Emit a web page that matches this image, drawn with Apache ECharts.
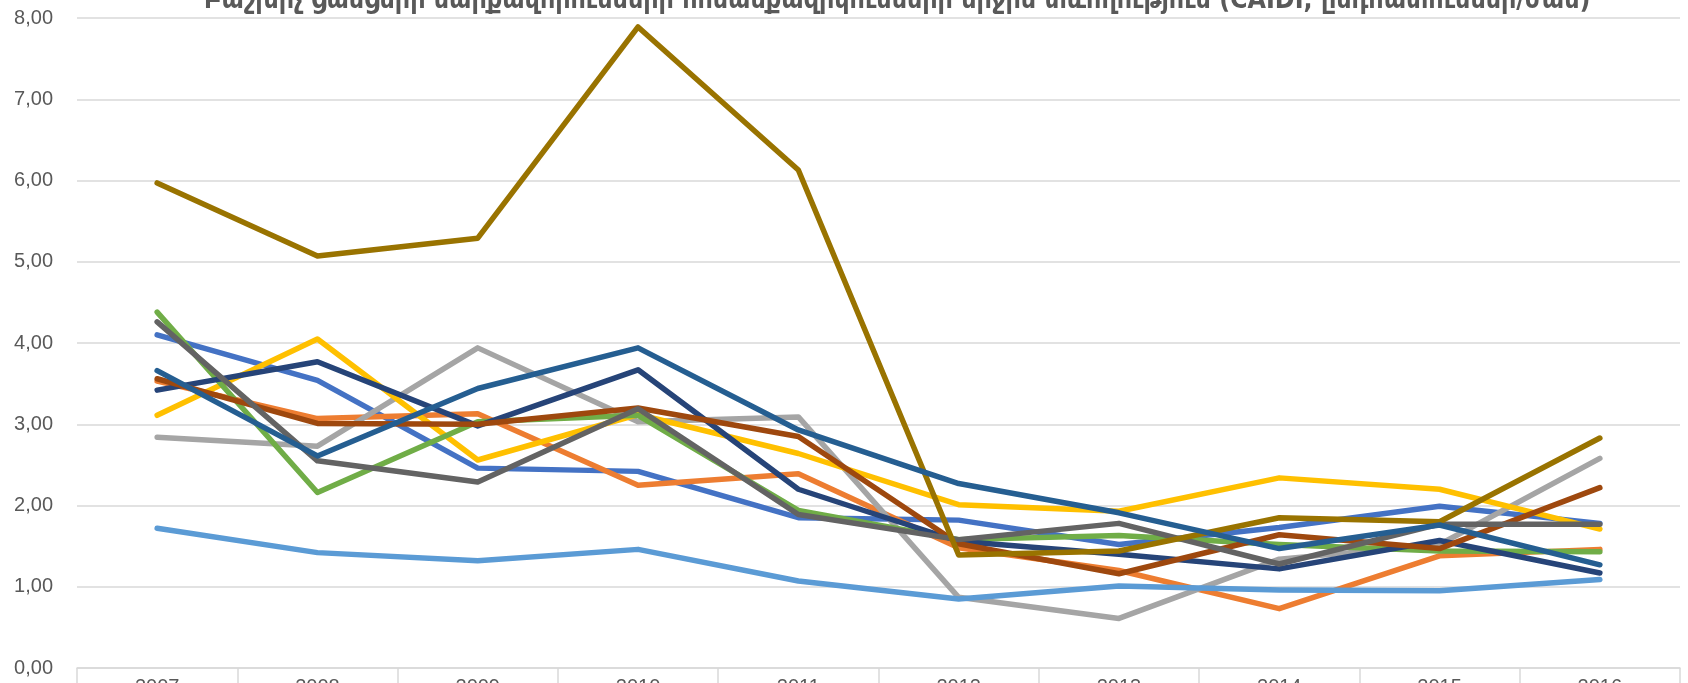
<!DOCTYPE html>
<html lang="hy">
<head>
<meta charset="UTF-8" />
<title>CAIDI</title>
<script src="https://cdn.jsdelivr.net/npm/echarts@6/dist/echarts.min.js"></script>
<style>
  html, body { margin: 0; padding: 0; background: #fff; }
  #main { width: 1688px; height: 683px; }
</style>
</head>
<body>
<div id="main"></div>
<script>
// տարիներ
var years = ['2007', '2008', '2009', '2010', '2011', '2012', '2013', '2014', '2015', '2016'];

// ամեն գիծ՝ առանձին զանգված (ժամ)
var s1 = [4.10, 3.54, 2.46, 2.42, 1.85, 1.82, 1.52, 1.73, 1.99, 1.78];
var s2 = [3.53, 3.07, 3.13, 2.25, 2.39, 1.48, 1.20, 0.73, 1.38, 1.46];
var s3 = [2.84, 2.73, 3.94, 3.03, 3.09, 0.87, 0.61, 1.34, 1.52, 2.58];
var s4 = [3.11, 4.05, 2.56, 3.12, 2.64, 2.01, 1.93, 2.34, 2.20, 1.71];
var s5 = [1.72, 1.42, 1.32, 1.46, 1.07, 0.85, 1.01, 0.96, 0.95, 1.09];
var s6 = [4.38, 2.16, 3.03, 3.11, 1.94, 1.58, 1.63, 1.52, 1.44, 1.43];
var s7 = [3.42, 3.77, 2.98, 3.67, 2.20, 1.56, 1.40, 1.22, 1.57, 1.17];
var s8 = [3.56, 3.01, 3.00, 3.20, 2.85, 1.53, 1.16, 1.64, 1.47, 2.22];
var s9 = [4.26, 2.55, 2.29, 3.19, 1.89, 1.58, 1.78, 1.28, 1.77, 1.77];
var s10 = [5.97, 5.07, 5.29, 7.89, 6.13, 1.39, 1.44, 1.85, 1.80, 2.83];
var s11 = [3.66, 2.61, 3.44, 3.94, 2.93, 2.27, 1.91, 1.47, 1.76, 1.27];

var allSeries = [s1, s2, s3, s4, s5, s6, s7, s8, s9, s10, s11];
var colors = ['#4472C4', '#ED7D31', '#A5A5A5', '#FFC000', '#5B9BD5', '#70AD47',
              '#264478', '#9E480E', '#636363', '#997300', '#255E91'];

var titleText = 'Բաշխիչ ցանցերի սարքավորումների հոսանքազրկումների միջին տևողություն (CAIDI, ընդհատումներ/ժամ)';

var series = [];
for (var i = 0; i < allSeries.length; i++) {
  series.push({
    name: 'Շարք ' + (i + 1),
    type: 'line',
    data: allSeries[i],
    showSymbol: false,
    symbol: 'none',
    lineStyle: { width: 5.5, color: colors[i], cap: 'round', join: 'round' },
    itemStyle: { color: colors[i] }
  });
}

var myChart = echarts.init(document.getElementById('main'));
var option = {
  animation: false,
  color: colors,
  title: {
    text: titleText,
    left: 199,
    top: -17,
    textStyle: {
      fontFamily: 'DejaVu Sans Condensed, DejaVu Sans',
      fontSize: 26.5,
      fontWeight: 'bold',
      color: '#595959'
    }
  },
  grid: { left: 77, right: 8, top: 18, bottom: 15, outerBoundsMode: 'none', containLabel: false },
  xAxis: {
    type: 'category',
    data: years,
    boundaryGap: true,
    axisLine: { lineStyle: { color: '#D9D9D9', width: 1.5 } },
    axisTick: { show: true, length: 20, interval: 0, lineStyle: { color: '#D9D9D9', width: 1.5 } },
    axisLabel: { fontSize: 20, color: '#595959', margin: 9, fontFamily: 'Liberation Sans' }
  },
  yAxis: {
    type: 'value',
    min: 0,
    max: 8,
    interval: 1,
    axisLine: { show: false },
    axisTick: { show: false },
    splitLine: { lineStyle: { color: '#D9D9D9', width: 1.5 } },
    axisLabel: {
      fontSize: 20,
      color: '#595959',
      margin: 24,
      fontFamily: 'Liberation Sans',
      formatter: function (v) { return v.toFixed(2).replace('.', ','); }
    }
  },
  series: series
};
myChart.setOption(option);
</script>
</body>
</html>
